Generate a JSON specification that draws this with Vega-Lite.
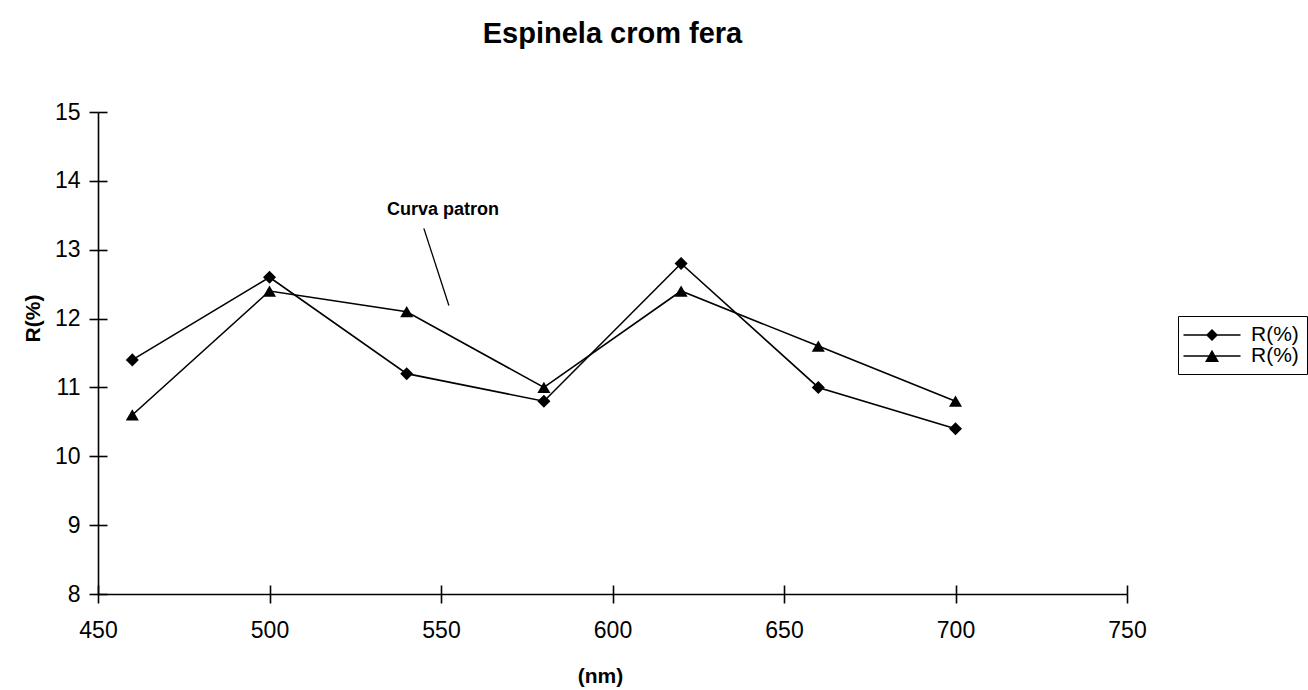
{
  "$schema": "https://vega.github.io/schema/vega-lite/v6.json",
  "autosize": {"type": "none"},
  "width": 1029,
  "height": 482,
  "padding": {"left": 98, "top": 112, "right": 181, "bottom": 96},
  "background": "white",
  "title": {"text": "Espinela crom fera", "font": "Liberation Sans", "fontSize": 29, "fontWeight": "bold", "color": "black", "anchor": "middle", "offset": 52},
  "config": {"view": {"stroke": null}, "font": "Liberation Sans"},
  "datasets": {
    "main": [
      {"nm": 460, "R": 11.4, "s": "s1"},
      {"nm": 500, "R": 12.6, "s": "s1"},
      {"nm": 540, "R": 11.2, "s": "s1"},
      {"nm": 580, "R": 10.8, "s": "s1"},
      {"nm": 620, "R": 12.8, "s": "s1"},
      {"nm": 660, "R": 11.0, "s": "s1"},
      {"nm": 700, "R": 10.4, "s": "s1"},
      {"nm": 460, "R": 10.6, "s": "s2"},
      {"nm": 500, "R": 12.4, "s": "s2"},
      {"nm": 540, "R": 12.1, "s": "s2"},
      {"nm": 580, "R": 11.0, "s": "s2"},
      {"nm": 620, "R": 12.4, "s": "s2"},
      {"nm": 660, "R": 11.6, "s": "s2"},
      {"nm": 700, "R": 10.8, "s": "s2"}
    ],
    "annot": [
      {"x1": 545.0, "y1": 13.31, "x2": 552.3, "y2": 12.19, "tx": 550.6, "ty": 13.57, "label": "Curva patron"}
    ]
  },
  "resolve": {"axis": {"x": "independent", "y": "independent"}, "scale": {"shape": "independent"}, "legend": {"shape": "independent"}},
  "layer": [
    {
      "data": {"name": "main"},
      "mark": {"type": "line", "color": "black", "strokeWidth": 1.6},
      "encoding": {
        "x": {"field": "nm", "type": "quantitative", "scale": {"domain": [450, 750], "nice": false},
          "axis": {"orient": "bottom", "title": "(nm)", "values": [450, 500, 550, 600, 650, 700, 750], "labelFlush": false, "grid": false, "domainColor": "black", "domainWidth": 1.6, "tickColor": "black", "tickWidth": 1.6, "tickSize": 9, "labelFontSize": 23, "labelColor": "black", "labelPadding": 16, "titleFontSize": 21, "titleFontWeight": "bold", "titleColor": "black", "titleX": 502, "titleY": 82, "titleBaseline": "middle", "titleAlign": "center", "labelFont": "Liberation Sans", "titleFont": "Liberation Sans"}},
        "y": {"field": "R", "type": "quantitative", "scale": {"domain": [8, 15], "nice": false, "zero": false},
          "axis": {"orient": "left", "title": "R(%)", "format": "d", "values": [8, 9, 10, 11, 12, 13, 14, 15], "labelFlush": false, "grid": false, "domainColor": "black", "domainWidth": 1.6, "tickColor": "black", "tickWidth": 1.6, "tickSize": 9, "labelFontSize": 23, "labelColor": "black", "labelPadding": 9, "titleFontSize": 21, "titleFontWeight": "bold", "titleColor": "black", "titleX": -65, "titleY": 206, "titleAngle": -90, "titleBaseline": "middle", "titleAlign": "center", "labelFont": "Liberation Sans", "titleFont": "Liberation Sans"}},
        "detail": {"field": "s"}
      }
    },
    {
      "data": {"name": "main"},
      "mark": {"type": "point", "filled": true, "color": "black", "opacity": 1, "size": 170},
      "encoding": {
        "x": {"field": "nm", "type": "quantitative",
          "axis": {"orient": "bottom", "values": [450, 500, 550, 600, 650, 700, 750], "title": null, "labels": false, "domain": false, "grid": false, "tickColor": "black", "tickWidth": 1.6, "tickSize": -9}},
        "y": {"field": "R", "type": "quantitative",
          "axis": {"orient": "left", "values": [8, 9, 10, 11, 12, 13, 14, 15], "title": null, "labels": false, "domain": false, "grid": false, "tickColor": "black", "tickWidth": 1.6, "tickSize": -9}},
        "shape": {"field": "s", "type": "nominal",
          "scale": {"domain": ["s1", "s2"], "range": ["diamond", "triangle-up"]},
          "legend": null}
      }
    },
    {
      "data": {"name": "main"},
      "transform": [{"filter": "datum.nm < 0"}],
      "mark": {"type": "point", "filled": true, "color": "black", "opacity": 1},
      "encoding": {
        "x": {"field": "nm", "type": "quantitative", "axis": null},
        "y": {"field": "R", "type": "quantitative", "axis": null},
        "shape": {"field": "s", "type": "nominal",
          "scale": {"domain": ["s1", "s2"], "range": ["M-2.85,-0.08H2.85V0.08H-2.85ZM0,-0.6L0.6,0L0,0.6L-0.6,0Z", "M-2.85,-0.08H2.85V0.08H-2.85ZM0,-0.62L0.7,0.6L-0.7,0.6Z"]},
          "legend": {"title": null, "orient": "none", "legendX": 1080, "legendY": 204, "labelExpr": "'R(%)'", "labelFontSize": 21, "labelColor": "black", "labelFont": "Liberation Sans", "labelOffset": 28, "symbolOffset": 15, "strokeColor": "black", "padding": 8, "symbolFillColor": "black", "symbolSize": 400, "symbolOpacity": 1, "rowPadding": 0}}
      }
    },
    {
      "data": {"name": "annot"},
      "mark": {"type": "rule", "color": "black", "strokeWidth": 1.3},
      "encoding": {
        "x": {"field": "x1", "type": "quantitative", "axis": null},
        "y": {"field": "y1", "type": "quantitative", "axis": null},
        "x2": {"field": "x2"},
        "y2": {"field": "y2"}
      }
    },
    {
      "data": {"name": "annot"},
      "mark": {"type": "text", "font": "Liberation Sans", "fontSize": 18, "fontWeight": "bold", "color": "black"},
      "encoding": {
        "x": {"field": "tx", "type": "quantitative", "axis": null},
        "y": {"field": "ty", "type": "quantitative", "axis": null},
        "text": {"field": "label"}
      }
    }
  ]
}
